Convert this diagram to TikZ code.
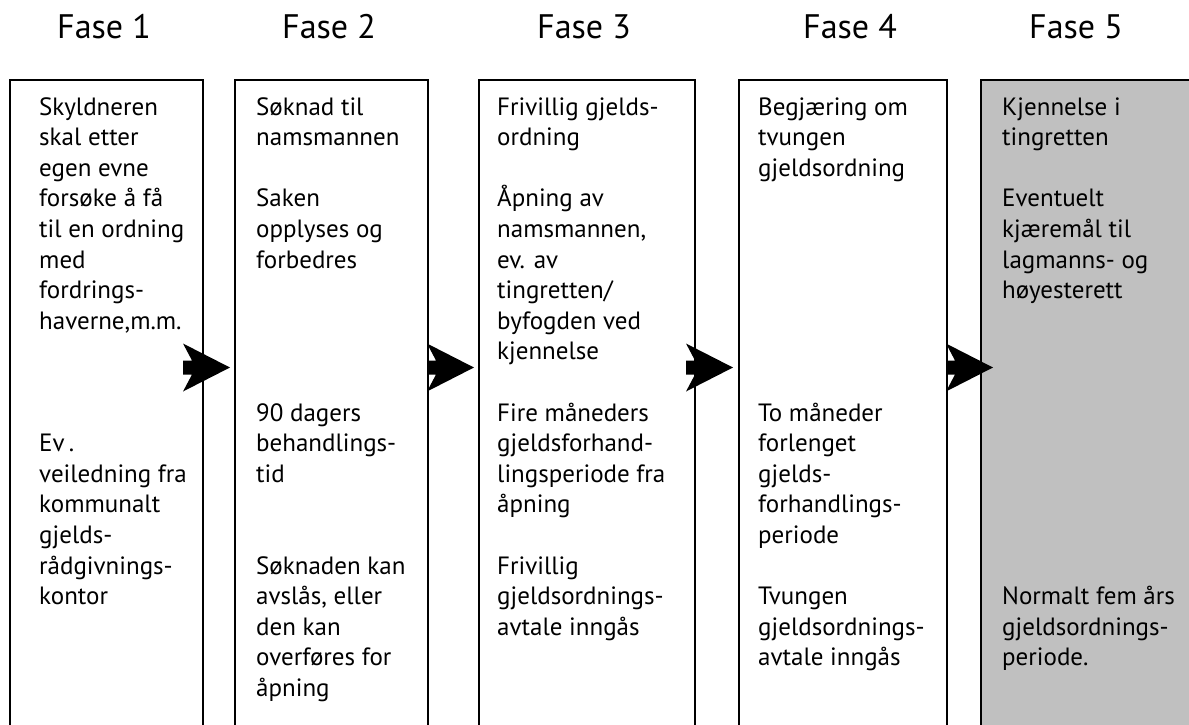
\documentclass[tikz,border=0pt]{standalone}
\usepackage{fontspec}
\setmainfont{PT Sans}
\tikzset{
  phasebox/.style={draw=black, line width=1.8pt, anchor=north west, inner sep=0pt, minimum height=720pt},
  head/.style={font=\fontsize{34}{40}\selectfont, anchor=base, inner sep=0pt},
  body/.style={font=\fontsize{25}{30.6}\selectfont, anchor=base west, inner sep=0pt},
  arrowfill/.style={fill=black, draw=none}
}
\newcommand\tl[4]{\node[body] (#1) at (#2,{115+30.6*#3}) {#4};}
\newcommand\phasearrow[1]{\fill[arrowfill, shift={(#1)}] (0,-7) -- (9,-7) -- (0,-24) -- (47,0) -- (0,24) -- (9,7) -- (0,7) -- cycle;}
\begin{document}
\begin{tikzpicture}[x=1pt,y=-1pt]
\useasboundingbox (0,0) rectangle (1189,724);
\fill[white] (0,0) rectangle (1189,724);
% headings
\node[head] (h1) at (104,38) {Fase 1};
\node[head] (h2) at (329,38) {Fase 2};
\node[head] (h3) at (584,38) {Fase 3};
\node[head] (h4) at (850,38) {Fase 4};
\node[head] (h5) at (1076,38) {Fase 5};
% boxes
\node[phasebox, minimum width=193pt] (b1) at (9,79) {};
\node[phasebox, minimum width=193pt] (b2) at (234,79) {};
\node[phasebox, minimum width=216pt] (b3) at (478,79) {};
\node[phasebox, minimum width=208pt] (b4) at (738,79) {};
\node[phasebox, minimum width=260pt, fill={rgb,255:red,192;green,192;blue,192}] (b5) at (980,79) {};
% arrows
\coordinate (a1) at (183,367.5);
\coordinate (a2) at (427,367.5);
\coordinate (a3) at (686,367.5);
\coordinate (a4) at (946,367.5);
\phasearrow{a1}
\phasearrow{a2}
\phasearrow{a3}
\phasearrow{a4}
% box 1
\tl{t1-0}{39}{0}{Skyldneren}
\tl{t1-1}{39}{1}{skal etter}
\tl{t1-2}{39}{2}{egen evne}
\tl{t1-3}{39}{3}{forsøke å få}
\tl{t1-4}{39}{4}{til en ordning}
\tl{t1-5}{39}{5}{med}
\tl{t1-6}{39}{6}{fordrings-}
\tl{t1-7}{39}{7}{haverne,m.m.}
\tl{t1-11}{39}{11}{Ev\,.}
\tl{t1-12}{39}{12}{veiledning fra}
\tl{t1-13}{39}{13}{kommunalt}
\tl{t1-14}{39}{14}{gjelds-}
\tl{t1-15}{39}{15}{rådgivnings-}
\tl{t1-16}{39}{16}{kontor}
% box 2
\tl{t2-0}{256}{0}{Søknad til}
\tl{t2-1}{256}{1}{namsmannen}
\tl{t2-3}{256}{3}{Saken}
\tl{t2-4}{256}{4}{opplyses og}
\tl{t2-5}{256}{5}{forbedres}
\tl{t2-10}{256}{10}{90 dagers}
\tl{t2-11}{256}{11}{behandlings-}
\tl{t2-12}{256}{12}{tid}
\tl{t2-15}{256}{15}{Søknaden kan}
\tl{t2-16}{256}{16}{avslås, eller}
\tl{t2-17}{256}{17}{den kan}
\tl{t2-18}{256}{18}{overføres for}
\tl{t2-19}{256}{19}{åpning}
% box 3
\tl{t3-0}{497}{0}{Frivillig gjelds-}
\tl{t3-1}{497}{1}{ordning}
\tl{t3-3}{497}{3}{Åpning av}
\tl{t3-4}{497}{4}{namsmannen,}
\tl{t3-5}{497}{5}{ev. av}
\tl{t3-6}{497}{6}{tingretten/}
\tl{t3-7}{497}{7}{byfogden ved}
\tl{t3-8}{497}{8}{kjennelse}
\tl{t3-10}{497}{10}{Fire måneders}
\tl{t3-11}{497}{11}{gjeldsforhand-}
\tl{t3-12}{497}{12}{lingsperiode fra}
\tl{t3-13}{497}{13}{åpning}
\tl{t3-15}{497}{15}{Frivillig}
\tl{t3-16}{497}{16}{gjeldsordnings-}
\tl{t3-17}{497}{17}{avtale inngås}
% box 4
\tl{t4-0}{758}{0}{Begjæring om}
\tl{t4-1}{758}{1}{tvungen}
\tl{t4-2}{758}{2}{gjeldsordning}
\tl{t4-10}{758}{10}{To måneder}
\tl{t4-11}{758}{11}{forlenget}
\tl{t4-12}{758}{12}{gjelds-}
\tl{t4-13}{758}{13}{forhandlings-}
\tl{t4-14}{758}{14}{periode}
\tl{t4-16}{758}{16}{Tvungen}
\tl{t4-17}{758}{17}{gjeldsordnings-}
\tl{t4-18}{758}{18}{avtale inngås}
% box 5
\tl{t5-0}{1002}{0}{Kjennelse i}
\tl{t5-1}{1002}{1}{tingretten}
\tl{t5-3}{1002}{3}{Eventuelt}
\tl{t5-4}{1002}{4}{kjæremål til}
\tl{t5-5}{1002}{5}{lagmanns- og}
\tl{t5-6}{1002}{6}{høyesterett}
\tl{t5-16}{1002}{16}{Normalt fem års}
\tl{t5-17}{1002}{17}{gjeldsordnings-}
\tl{t5-18}{1002}{18}{periode.}
\end{tikzpicture}
\end{document}
